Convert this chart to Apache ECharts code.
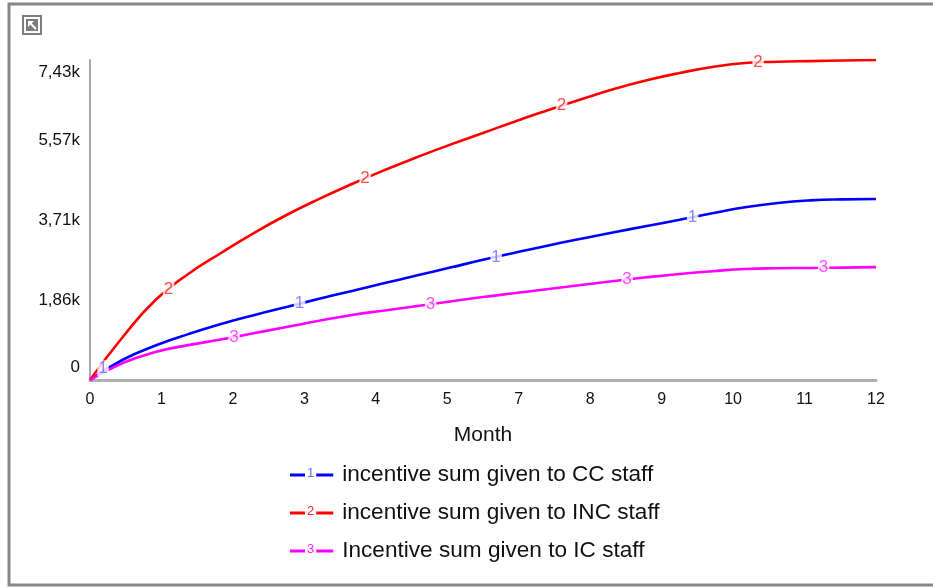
<!DOCTYPE html>
<html>
<head>
<meta charset="utf-8">
<title>Incentive sums by staff group</title>
<script src="https://cdn.jsdelivr.net/npm/echarts@6/dist/echarts.min.js"></script>
<style>
  html, body { margin: 0; padding: 0; background: #fff; }
  #chart { width: 933px; height: 588px; }
</style>
</head>
<body>
<div id="chart"></div>
<script>
// Simulation month for each sampled value (half-month steps)
const months = [0, 0.5, 1, 1.5, 2, 2.5, 3, 3.5, 4, 4.5, 5, 5.5, 6, 6.5, 7, 7.5, 8, 8.5, 9, 9.5, 10, 10.5, 11, 11.5, 12];

// Cumulative incentive sums per staff group
const ccStaff  = [0, 470, 800, 1065, 1300, 1505, 1695, 1885, 2068, 2250, 2430, 2610, 2790, 2960, 3125, 3280, 3430, 3575, 3720, 3870, 4010, 4110, 4170, 4195, 4203];
const incStaff = [0, 998, 1858, 2461, 2949, 3413, 3831, 4205, 4551, 4875, 5178, 5465, 5735, 6010, 6269, 6520, 6757, 6960, 7128, 7268, 7361, 7390, 7405, 7418, 7430];
const icStaff  = [0, 395, 650, 810, 940, 1085, 1230, 1375, 1509, 1615, 1718, 1822, 1927, 2020, 2113, 2206, 2299, 2385, 2461, 2525, 2577, 2595, 2601, 2610, 2620];

// Numbered line markers [month, value]
const ccMarks  = [[0.2, 270], [3.2, 1771], [6.2, 2858], [9.2, 3780]];
const incMarks = [[1.2, 2099], [4.2, 4681], [7.2, 6369], [10.2, 7373]];
const icMarks  = [[2.2, 998], [5.2, 1760], [8.2, 2333], [11.2, 2605]];

const seriesNames = [
  'incentive sum given to CC staff',
  'incentive sum given to INC staff',
  'Incentive sum given to IC staff'
];

// Axis tick labels
const xTickLabels = ['0', '1', '2', '3', '4', '5', '7', '8', '9', '10', '11', '12'];
const yMax = 7430;
const yTickLabels = ['0', '1,86k', '3,71k', '5,57k', '7,43k'];

const colors = ['#0000ff', '#ff0000', '#ff00ff'];
const numColors = ['#6a6aff', '#ff2020', '#ff20ff'];
const FONT = 'Liberation Sans, Arial, sans-serif';

const xMax = 12;
const xTickValues = xTickLabels.map((_, i) => i * xMax / (xTickLabels.length - 1));
const yTickValues = yTickLabels.map((_, i) => i * yMax / (yTickLabels.length - 1));

function pairs(xs, ys) { return xs.map((x, i) => [x, ys[i]]); }

function lineSeries(name, values, color) {
  return {
    name: name,
    type: 'line',
    data: pairs(months, values),
    smooth: 0.5,
    showSymbol: false,
    symbol: 'none',
    lineStyle: { color: color, width: 2.6 },
    itemStyle: { color: color },
    z: 2,
    silent: true
  };
}

function markSeries(num, marks, color) {
  return {
    type: 'scatter',
    data: marks,
    symbolSize: 1,
    itemStyle: { color: 'transparent' },
    label: {
      show: true,
      position: 'inside',
      formatter: String(num),
      color: color,
      fontFamily: FONT,
      fontSize: 17,
      backgroundColor: '#fff',
      padding: [0, 1, 0, 1],
      lineHeight: 16
    },
    z: 5,
    silent: true
  };
}

const legendRich = { g: { width: 9 } };
[0, 1, 2].forEach(i => {
  legendRich['a' + i] = { width: 15, height: 3, backgroundColor: colors[i] };
  legendRich['n' + i] = { color: numColors[i], fontSize: 13, fontFamily: FONT, padding: [0, 2, 4, 2] };
  legendRich['c' + i] = { width: 17, height: 3, backgroundColor: colors[i] };
});

const chart = echarts.init(document.getElementById('chart'), null, { renderer: 'canvas' });

chart.setOption({
  animation: false,
  backgroundColor: '#fff',
  grid: { left: 90, right: 57, top: 60, bottom: 208, containLabel: false },
  xAxis: {
    type: 'value',
    min: 0,
    max: xMax,
    name: 'Month',
    nameLocation: 'middle',
    nameGap: 45,
    nameTextStyle: { fontFamily: FONT, fontSize: 21, color: '#111' },
    axisLine: { show: true, lineStyle: { color: '#b0b0b0', width: 3 } },
    axisTick: { show: false },
    splitLine: { show: false },
    axisLabel: {
      customValues: xTickValues,
      formatter: v => xTickLabels[Math.round(v * (xTickLabels.length - 1) / xMax)],
      fontFamily: FONT,
      fontSize: 16,
      color: '#111',
      margin: 12
    }
  },
  yAxis: {
    type: 'value',
    min: 0,
    max: yMax,
    axisLine: { show: true, lineStyle: { color: '#a8a8a8', width: 2 } },
    axisTick: { show: false },
    splitLine: { show: false },
    axisLabel: {
      customValues: yTickValues,
      formatter: v => {
        const i = Math.round(v * (yTickLabels.length - 1) / yMax);
        if (i === 0) return '{lo|' + yTickLabels[i] + '}';
        if (i === yTickLabels.length - 1) return '{hi|' + yTickLabels[i] + '}';
        return yTickLabels[i];
      },
      rich: {
        lo: { fontFamily: FONT, fontSize: 17, color: '#111', padding: [0, 0, 25, 0] },
        hi: { fontFamily: FONT, fontSize: 17, color: '#111', padding: [25, 0, 0, 0] }
      },
      fontFamily: FONT,
      fontSize: 17,
      color: '#111',
      margin: 10
    }
  },
  legend: {
    data: seriesNames,
    orient: 'vertical',
    left: 280,
    top: 458,
    itemGap: 14,
    itemWidth: 0,
    itemHeight: 0,
    icon: 'none',
    selectedMode: false,
    formatter: name => {
      const i = seriesNames.indexOf(name);
      return '{a' + i + '|}{n' + i + '|' + (i + 1) + '}{c' + i + '|}{g|}' + name;
    },
    textStyle: { fontFamily: FONT, fontSize: 22.6, color: '#111', lineHeight: 24, rich: legendRich }
  },
  series: [
    lineSeries(seriesNames[0], ccStaff, colors[0]),
    lineSeries(seriesNames[1], incStaff, colors[1]),
    lineSeries(seriesNames[2], icStaff, colors[2]),
    markSeries(1, ccMarks, numColors[0]),
    markSeries(2, incMarks, numColors[1]),
    markSeries(3, icMarks, numColors[2])
  ],
  graphic: [
    {
      type: 'rect',
      shape: { x: 9, y: 4, width: 960, height: 581 },
      style: { fill: 'none', stroke: '#878787', lineWidth: 3 },
      silent: true
    },
    {
      type: 'group',
      x: 22,
      y: 15,
      silent: true,
      children: [
        { type: 'rect', shape: { x: 0, y: 0, width: 20, height: 20 }, style: { fill: '#7d7d7d' } },
        { type: 'rect', shape: { x: 2, y: 2, width: 16, height: 16 }, style: { fill: '#fff' } },
        { type: 'rect', shape: { x: 4, y: 4, width: 12, height: 12 }, style: { fill: '#7d7d7d' } },
        { type: 'polygon', shape: { points: [[6, 6], [12, 6], [6, 12]] }, style: { fill: '#fff' } },
        { type: 'line', shape: { x1: 8, y1: 8, x2: 14, y2: 14 }, style: { stroke: '#fff', lineWidth: 2 } }
      ]
    }
  ]
});
</script>
</body>
</html>
